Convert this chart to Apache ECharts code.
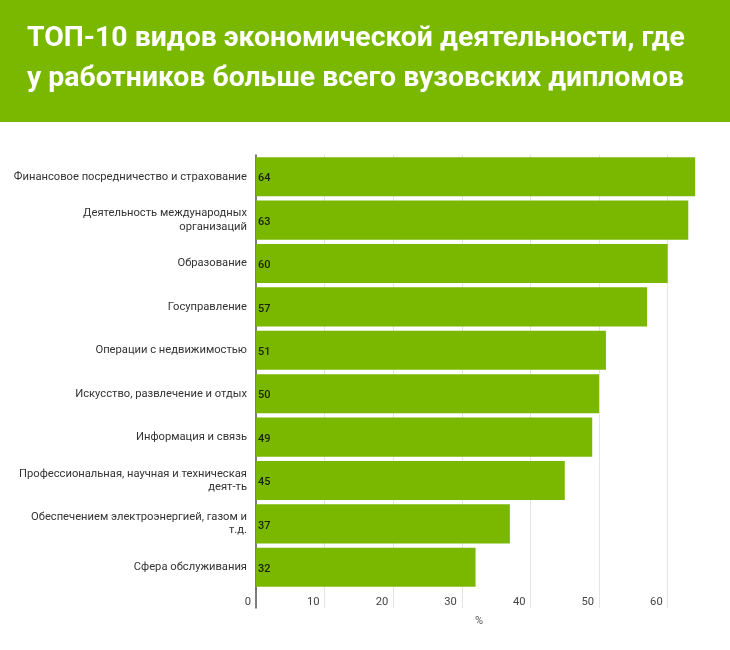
<!DOCTYPE html>
<html>
<head>
<meta charset="utf-8">
<script src="https://cdn.jsdelivr.net/npm/echarts@6/dist/echarts.min.js"></script>
<style>
  html, body { margin: 0; padding: 0; background: #fff; }
  #main { width: 730px; height: 650px; }
</style>
</head>
<body>
<div id="main"></div>
<script>
// данные
var categories = [
    'Финансовое посредничество и страхование',
    'Деятельность международных\nорганизаций',
    'Образование',
    'Госуправление',
    'Операции с недвижимостью',
    'Искусство, развлечение и отдых',
    'Информация и связь',
    'Профессиональная, научная и техническая\nдеят-ть',
    'Обеспечением электроэнергией, газом и\nт.д.',
    'Сфера обслуживания'
];
var values = [64, 63, 60, 57, 51, 50, 49, 45, 37, 32];
var titleLines = [
    'ТОП-10 видов экономической деятельности, где',
    'у работников больше всего вузовских дипломов'
];

var green = '#7ab800';
var font = 'Roboto';

var myChart = echarts.init(document.getElementById('main'));

myChart.setOption({
    animation: false,
    textStyle: { fontFamily: font },
    graphic: [{
        type: 'rect',
        left: 0, top: 0, z: -1,
        shape: { width: 730, height: 122 },
        style: { fill: green }
    }],
    title: {
        text: titleLines.join('\n'),
        left: 22,
        top: 14,
        textStyle: {
            color: '#fff',
            fontSize: 28.4,
            fontWeight: 'bold',
            lineHeight: 40,
            fontFamily: font
        }
    },
    grid: [
        { left: 256, right: 28, top: 155, height: 434 },
        { left: 256, right: 28, top: 589, height: 19 }
    ],
    xAxis: [{
        gridIndex: 0,
        type: 'value',
        min: 0, max: 65, interval: 10,
        name: '%',
        nameLocation: 'middle',
        nameGap: 27,
        nameTextStyle: { color: '#555', fontSize: 11 },
        axisLine: { show: false },
        axisTick: { show: false },
        axisLabel: {
            showMaxLabel: false,
            align: 'right',
            margin: 8,
            padding: [0, 5, 0, 0],
            color: '#444',
            fontSize: 11.2
        },
        splitLine: {
            showMinLine: false,
            showMaxLine: false,
            lineStyle: { color: '#e4e4e4' }
        }
    }, {
        gridIndex: 1,
        type: 'value',
        min: 0, max: 65, interval: 10,
        axisLine: { show: false },
        axisTick: { show: false },
        axisLabel: { show: false },
        splitLine: {
            showMinLine: false,
            showMaxLine: false,
            lineStyle: { color: '#e4e4e4' }
        }
    }],
    yAxis: [{
        gridIndex: 0,
        type: 'category',
        inverse: true,
        data: categories,
        axisLine: { lineStyle: { color: '#555', width: 1.5 } },
        axisTick: { show: false },
        axisLabel: {
            margin: 9,
            color: '#333',
            fontSize: 11.2,
            lineHeight: 13.5,
            padding: [6, 0, 0, 0]
        }
    }, {
        gridIndex: 1,
        type: 'category',
        data: [''],
        axisLine: { lineStyle: { color: '#555', width: 1.5 } },
        axisTick: { show: false },
        axisLabel: { show: false }
    }],
    series: [{
        type: 'bar',
        xAxisIndex: 0,
        yAxisIndex: 0,
        data: values,
        barCategoryGap: '10%',
        itemStyle: { color: green },
        label: {
            show: true,
            position: 'insideLeft',
            distance: 2,
            offset: [0, 2],
            color: '#1a2200',
            fontSize: 11,
            fontWeight: 500
        }
    }]
});
window.onresize = myChart.resize;
</script>
</body>
</html>
